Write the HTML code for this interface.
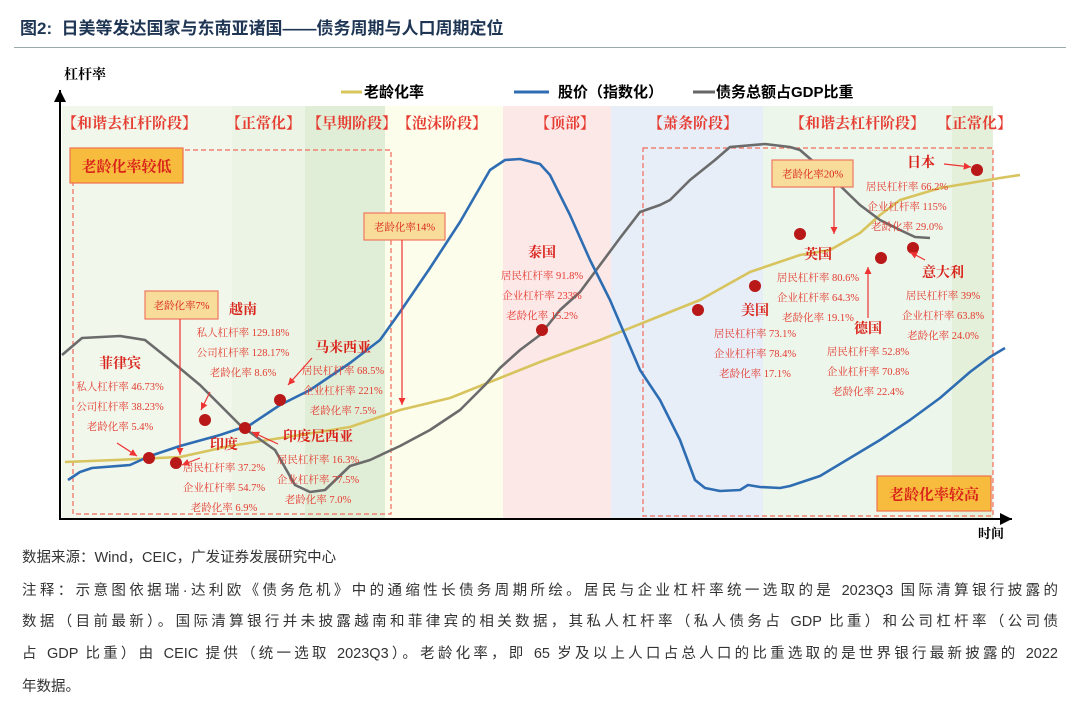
<!DOCTYPE html>
<html><head><meta charset="utf-8">
<style>
body{margin:0;background:#fff;width:1080px;height:714px;overflow:hidden;font-family:"Liberation Sans","Noto Sans CJK SC",sans-serif}
.ft{position:absolute;left:22px;font-size:14.5px;color:#333;line-height:33px;width:1036px;white-space:nowrap}
.j{text-align:justify;text-align-last:justify}
</style></head><body>
<div style="position:absolute;left:20px;top:14px;font-size:17px;font-weight:bold;color:#1e3554">图2:&nbsp; 日美等发达国家与东南亚诸国——债务周期与人口周期定位</div>
<div style="position:absolute;left:14px;top:47px;width:1052px;height:1px;background:#9aa"></div>
<svg width="1080" height="714" style="position:absolute;left:0;top:0" font-family="'Liberation Serif','Noto Serif CJK SC',serif">
<defs><marker id="ar" markerWidth="8" markerHeight="8" refX="6" refY="3" orient="auto"><path d="M0,0L6,3L0,6z" fill="#e33"/></marker>
<marker id="ak" markerWidth="8" markerHeight="8" refX="6" refY="3" orient="auto"><path d="M0,0L6,3L0,6z" fill="#000"/></marker></defs>
<g id="bands"></g>
<g id="frames"></g>
<g id="lines"></g>
<g id="dots"></g>
<g id="labels"></g>
<line x1="60" y1="520" x2="60" y2="90" stroke="#000" stroke-width="2" marker-end="url(#ak)"/>
<line x1="60" y1="519" x2="1012" y2="519" stroke="#000" stroke-width="2" marker-end="url(#ak)"/>
<text x="64" y="79" font-size="14" font-weight="bold">杠杆率</text>
<text x="978" y="538" font-size="13" font-weight="bold">时间</text>
<g font-family="'Liberation Sans','Noto Sans CJK SC',sans-serif" font-weight="bold" font-size="15">
<line x1="341" y1="92" x2="362" y2="92" stroke="#d9c65c" stroke-width="3"/><text x="364" y="97">老龄化率</text>
<line x1="514" y1="92" x2="549" y2="92" stroke="#2f6db3" stroke-width="3"/><text x="558" y="97">股价（指数化）</text>
<line x1="693" y1="92" x2="715" y2="92" stroke="#666" stroke-width="3"/><text x="716" y="97">债务总额占GDP比重</text>
</g>
</svg>
<div class="ft" style="top:542px">数据来源：Wind，CEIC，广发证券发展研究中心</div>
<div>
<div class="ft j" style="top:575px">注释：示意图依据瑞·达利欧《债务危机》中的通缩性长债务周期所绘。居民与企业杠杆率统一选取的是 2023Q3 国际清算银行披露的</div>
<div class="ft j" style="top:606px">数据（目前最新）。国际清算银行并未披露越南和菲律宾的相关数据，其私人杠杆率（私人债务占 GDP 比重）和公司杠杆率（公司债</div>
<div class="ft j" style="top:638px">占 GDP 比重）由 CEIC 提供（统一选取 2023Q3）。老龄化率，即 65 岁及以上人口占总人口的比重选取的是世界银行最新披露的 2022</div>
<div class="ft" style="top:671px">年数据。</div>
</div>
<script>
// time axis: 0..958, value axis: 0..414
const agingT=[3,53,118,168,238,288,338,388,438,478,538,588,638,688,738,768,798,818,838,878,938,958];
const agingV=[57,59,62,73,84,92,109,121,141,157,179,199,219,247,264,269,286,304,319,331,341,344];
const stockT=[6,18,30,68,88,118,158,188,218,248,288,318,338,368,398,428,443,458,478,488,508,528,548,563,578,598,618,633,643,658,678,686,698,718,728,758,788,818,848,878,908,928,943];
const stockV=[39,47,51,54,63,73,84,94,114,129,156,179,207,251,297,349,359,360,355,344,304,259,219,184,149,119,79,39,31,28,29,34,32,31,33,43,61,79,99,121,147,162,171];
const debtT=[0,20,58,83,108,138,158,178,196,213,233,248,263,288,308,338,368,398,423,438,458,478,498,518,538,558,578,598,608,628,653,668,703,728,738,768,798,818,838,853,868];
const debtV=[164,181,183,179,159,134,114,94,81,69,34,27,29,53,59,73,89,109,134,151,169,184,209,227,254,281,307,314,319,339,359,372,375,372,369,343,314,299,289,282,281];
const dotT=[87,114,143,183,218,480,636,693,738,819,851,915];
const dotV=[61,56,99,91,119,189,209,233,285,261,271,349];
const X=t=>62+t, Y=v=>519-v;
const NS='http://www.w3.org/2000/svg';
function mk(tag,attrs,parent,txt){const e=document.createElementNS(NS,tag);for(const k in attrs)e.setAttribute(k,attrs[k]);if(txt!=null)e.textContent=txt;document.getElementById(parent).appendChild(e);return e;}
const bands=[[62,232,'#f1f7eb'],[232,305,'#ecf5e5'],[305,385,'#e1eed7'],[385,503,'#fdfdec'],[503,611,'#fde8e8'],[611,763,'#e7eef8'],[763,952,'#edf6eb'],[952,993,'#e4f0da']];
bands.forEach(b=>{const r=mk('rect',{x:b[0],y:106,width:b[1]-b[0],height:413,fill:b[2]},'bands');

});
const phases=[[62,'【和谐去杠杆阶段】'],[226,'【正常化】'],[307,'【早期阶段】'],[397,'【泡沫阶段】'],[535,'【顶部】'],[648,'【萧条阶段】'],[790,'【和谐去杠杆阶段】'],[937,'【正常化】']];
phases.forEach(p=>{const t=mk('text',{x:p[0],y:128,'font-size':15,fill:'#e63c32','font-weight':'bold'},'labels',p[1]);

});
mk('rect',{x:73,y:150,width:318,height:364,fill:'none',stroke:'#f26b5b','stroke-dasharray':'5,3','stroke-width':1.2},'frames');
mk('rect',{x:643,y:148,width:350,height:368,fill:'none',stroke:'#f26b5b','stroke-dasharray':'5,3','stroke-width':1.2},'frames');
function path(T,V,col,name){let d=T.map((t,i)=>(i?'L':'M')+X(t)+','+Y(V[i])).join('');const p=mk('path',{d:d,fill:'none',stroke:col,'stroke-width':2.6,'stroke-linejoin':'round'},'lines');

}
path(agingT,agingV,'#d8c45e','aging-rate-line');
path(debtT,debtV,'#6b6b6b','debt-gdp-line');
path(stockT,stockV,'#2f6db3','stock-price-line');
dotT.forEach((t,i)=>{const c=mk('circle',{cx:X(t),cy:Y(dotV[i]),r:6,fill:'#b81818'},'dots');

});
const C=[[120,368,'菲律宾',['私人杠杆率 46.73%','公司杠杆率 38.23%','老龄化率 5.4%']],
[243,314,'越南',['私人杠杆率 129.18%','公司杠杆率 128.17%','老龄化率 8.6%']],
[343,352,'马来西亚',['居民杠杆率 68.5%','企业杠杆率 221%','老龄化率 7.5%']],
[224,449,'印度',['居民杠杆率 37.2%','企业杠杆率 54.7%','老龄化率 6.9%']],
[318,441,'印度尼西亚',['居民杠杆率 16.3%','企业杠杆率 77.5%','老龄化率 7.0%']],
[542,257,'泰国',['居民杠杆率 91.8%','企业杠杆率 233%','老龄化率 15.2%']],
[755,315,'美国',['居民杠杆率 73.1%','企业杠杆率 78.4%','老龄化率 17.1%']],
[818,259,'英国',['居民杠杆率 80.6%','企业杠杆率 64.3%','老龄化率 19.1%']],
[868,333,'德国',['居民杠杆率 52.8%','企业杠杆率 70.8%','老龄化率 22.4%']],
[943,277,'意大利',['居民杠杆率 39%','企业杠杆率 63.8%','老龄化率 24.0%']],
[921,167,'日本',[]]];
C.forEach(c=>{const t=mk('text',{x:c[0],y:c[1],'font-size':14,'font-weight':'bold',fill:'#d9221a','text-anchor':'middle'},'labels',c[2]);


c[3].forEach((s,j)=>{const u=mk('text',{x:c[0],y:c[1]+22+j*20,'font-size':10.5,fill:'#e33b30','text-anchor':'middle'},'labels',s);

});});
['居民杠杆率 66.2%','企业杠杆率 115%','老龄化率 29.0%'].forEach((s,j)=>{const u=mk('text',{x:907,y:190+j*20,'font-size':10.5,fill:'#e33b30','text-anchor':'middle'},'labels',s);

});
const B=[[145,291,73,28,'老龄化率7%',180,455],[364,213,81,27,'老龄化率14%',402,405],[772,160,81,27,'老龄化率20%',834,234]];
B.forEach(b=>{const r=mk('rect',{x:b[0],y:b[1],width:b[2],height:b[3],fill:'#f8dc9a',stroke:'#f0785f','stroke-width':1.2},'labels');


mk('text',{x:b[0]+b[2]/2,y:b[1]+b[3]/2+4,'font-size':10.5,fill:'#d9221a','text-anchor':'middle'},'labels',b[4]);
mk('line',{x1:b[5],y1:b[1]+b[3],x2:b[5],y2:b[6],stroke:'#e33','stroke-width':1.2,'marker-end':'url(#ar)'},'labels');});
const O=[[70,148,113,35,'老龄化率较低'],[877,476,114,35,'老龄化率较高']];
O.forEach(o=>{const r=mk('rect',{x:o[0],y:o[1],width:o[2],height:o[3],fill:'#f7bb3e',stroke:'#f07050','stroke-width':1.2},'labels');


mk('text',{x:o[0]+o[2]/2,y:o[1]+o[3]/2+6,'font-size':15,'font-weight':'bold',fill:'#d9221a','text-anchor':'middle'},'labels',o[4]);});
[[117,443,137,456],[210,392,201,410],[312,358,288,385],[200,458,182,465],[278,444,252,432],[944,164,971,167],[868,318,868,267],[925,260,910,252]].forEach(a=>{const l=mk('line',{x1:a[0],y1:a[1],x2:a[2],y2:a[3],stroke:'#e33','stroke-width':1.2,'marker-end':'url(#ar)'},'labels');

});
</script>
</body></html>
